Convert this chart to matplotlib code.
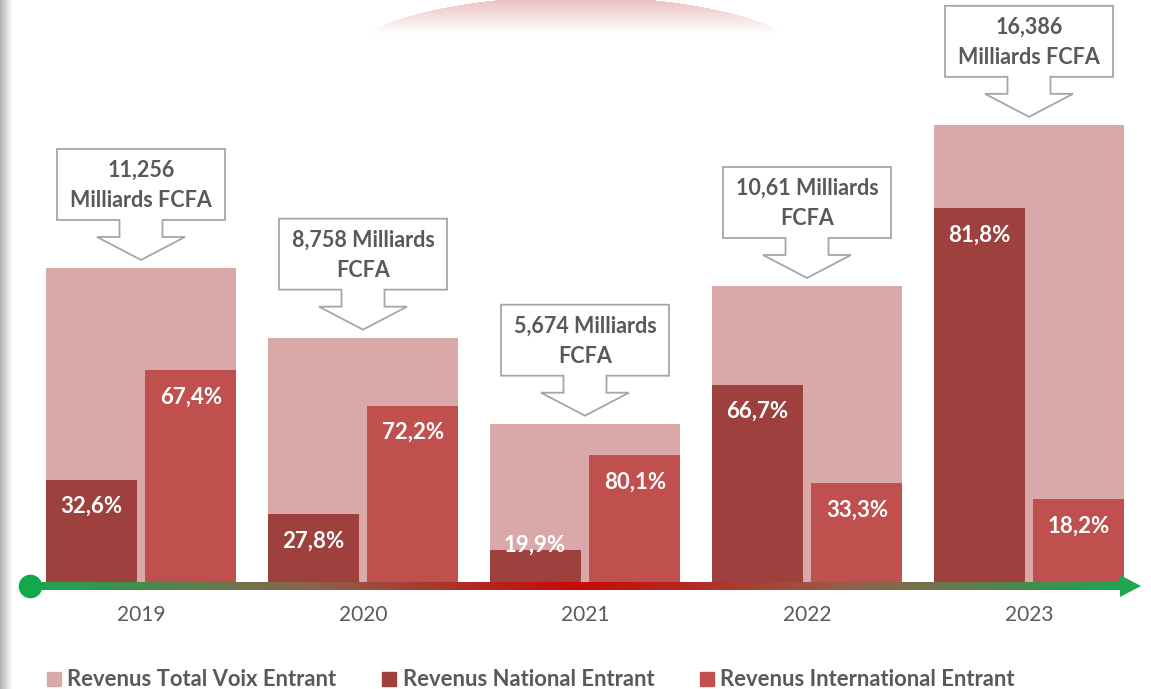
import numpy as np
import matplotlib.pyplot as plt
from matplotlib.patches import Polygon, Patch

# data
years = ["2019", "2020", "2021", "2022", "2023"]
total = [11.256, 8.758, 5.674, 10.61, 16.386]  # Milliards FCFA
national_pct = [32.6, 27.8, 19.9, 66.7, 81.8]
international_pct = [67.4, 72.2, 80.1, 33.3, 18.2]
callout_text = [
    "11,256\nMilliards FCFA",
    "8,758 Milliards\nFCFA",
    "5,674 Milliards\nFCFA",
    "10,61 Milliards\nFCFA",
    "16,386\nMilliards FCFA",
]
legend_labels = ["Revenus Total Voix Entrant", "Revenus National Entrant",
                 "Revenus International Entrant"]

C_TOTAL = "#D9A9A9"
C_NAT = "#9E403E"
C_INT = "#C0504D"
C_TXT = "#595959"

plt.rcParams["font.family"] = ["Lato", "DejaVu Sans"]

W, H = 1151, 689
fig = plt.figure(figsize=(W / 100, H / 100), dpi=100)

# ---- decoration layer (pixel coordinates) ----
bg = fig.add_axes([0, 0, 1, 1])
bg.set_xlim(0, W)
bg.set_ylim(H, 0)
bg.axis("off")

# grey strip on the left edge
strip = np.linspace(0.0, 1.0, 14)
shade = 1 - 0.30 * (1 - strip) ** 1.2
strip_img = np.dstack([shade, shade, shade]).reshape(1, -1, 3)
bg.imshow(strip_img, extent=(0, 14, H, 0), aspect="auto", interpolation="bilinear")

# pink faded ellipse at the top
xx, yy = np.meshgrid(np.arange(340, 820), np.arange(0, 40))
inside = ((xx - 575) / 230.0) ** 2 + ((yy - 60) / 64.0) ** 2 <= 1
alpha = np.clip(1 - yy / 33.0, 0, 1) * inside * 0.7
ell = np.zeros(xx.shape + (4,))
ell[..., 0] = 0.90
ell[..., 1] = 0.66
ell[..., 2] = 0.66
ell[..., 3] = alpha
bg.imshow(ell, extent=(340, 820, 40, 0), aspect="auto", interpolation="bilinear")

# ---- main chart (data coordinates) ----
ax = fig.add_axes([0, 0, 1, 1])
ax.patch.set_alpha(0)
PX_Y = 27.9   # pixels per unit
PX_X = 222.0
base_px = 582
ax.axis("off")

x = np.arange(len(years))
total_a = np.array(total)
nat = total_a * np.array(national_pct) / 100
inter = total_a * np.array(international_pct) / 100

ax.bar(x, total_a, width=0.856, color=C_TOTAL, zorder=2)
ax.bar(x - 0.225, nat, width=0.41, color=C_NAT, zorder=3)
ax.bar(x + 0.225, inter, width=0.41, color=C_INT, zorder=3)


def pct_label(xc, h, pct):
    txt = f"{pct:.1f}%".replace(".", ",")
    y = h - 27 / PX_Y if h > 1.5 else h + 0.18
    ax.text(xc, y, txt, ha="center", va="center", color="white",
            fontsize=16, fontweight="bold", zorder=5)


for i in range(len(years)):
    pct_label(x[i] - 0.225, nat[i], national_pct[i])
    pct_label(x[i] + 0.225, inter[i], international_pct[i])

# callouts above each total bar
hb, sh, hh = 84 / PX_X, 21.5 / PX_X, 44 / PX_X
for i, t in enumerate(total_a):
    c = x[i]
    tip = t + 8 / PX_Y
    hbase = tip + 23 / PX_Y
    bot = tip + 40 / PX_Y
    top = bot + 71 / PX_Y
    pts = [(c - hb, top), (c + hb, top), (c + hb, bot), (c + sh, bot),
           (c + sh, hbase), (c + hh, hbase), (c, tip), (c - hh, hbase),
           (c - sh, hbase), (c - sh, bot), (c - hb, bot)]
    ax.add_patch(Polygon(pts, closed=True, facecolor="white",
                         edgecolor="#A6A6A6", lw=1.3, zorder=4))
    ax.text(c, (bot + top) / 2 - 1 / PX_Y, callout_text[i], ha="center",
            va="center", color=C_TXT, fontsize=15.5, fontweight="bold",
            linespacing=1.58, zorder=5)

# gradient timeline arrow
x0 = (30 - 141) / PX_X
x1 = (1120 - 141) / PX_X
xt = (1141 - 141) / PX_X
yc = -4 / PX_Y
lh = 4 / PX_Y
stops = [0.0, 0.25, 0.5, 0.75, 1.0]
cols = np.array([[22, 168, 80], [140, 100, 75], [200, 8, 8],
                 [150, 95, 75], [25, 165, 80]]) / 255.0
pos = np.linspace(0, 1, 600)
grad = np.stack([np.interp(pos, stops, cols[:, k]) for k in range(3)], axis=-1)
ax.imshow(grad.reshape(1, -1, 3), extent=(x0, x1 + 0.01, yc - lh, yc + lh),
          aspect="auto", interpolation="bilinear", zorder=3)
ax.add_patch(Polygon([(x1, yc + 11 / PX_Y), (xt, yc), (x1, yc - 11 / PX_Y)],
                     closed=True, facecolor="#1FA64F", edgecolor="none", zorder=3))
ax.plot([x0], [yc], marker="o", ms=17, color="#12A94D", mec="none", zorder=4)
ax.set_aspect("auto")
ax.set_xlim((0 - 141) / PX_X, (W - 141) / PX_X)
ax.set_ylim(-(H - base_px) / PX_Y, base_px / PX_Y)

# year labels
for i, yr in enumerate(years):
    ax.text(x[i], (base_px - 615) / PX_Y, yr, ha="center", va="center",
            color=C_TXT, fontsize=15)

# legend
handles = [Patch(color=C_TOTAL), Patch(color=C_NAT), Patch(color=C_INT)]
leg = fig.legend(handles, legend_labels, ncol=3, loc="center left",
                 bbox_to_anchor=(47 / W, 9 / H), frameon=False,
                 borderpad=0, borderaxespad=0, handlelength=0.64,
                 handleheight=0.64, handletextpad=0.28, columnspacing=2.1,
                 prop={"size": 15.8, "weight": "bold"})
for t in leg.get_texts():
    t.set_color(C_TXT)

fig.savefig("out.png", dpi=100)
